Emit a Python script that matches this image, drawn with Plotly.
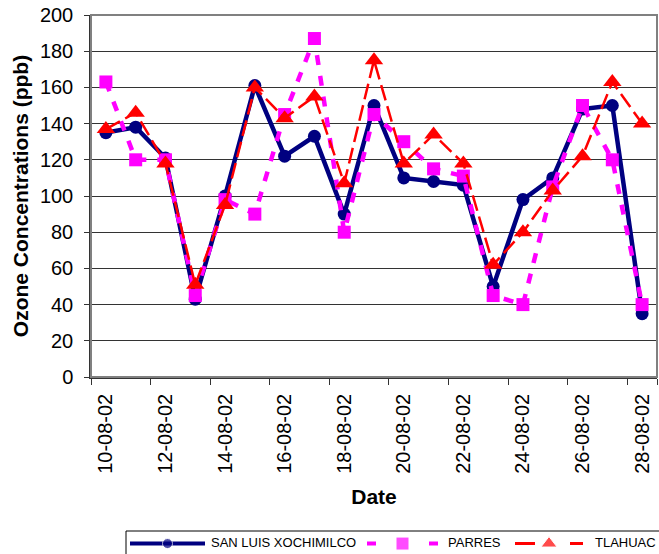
import plotly.graph_objects as go

# Sampling dates (dd-mm-yy), one per day
dates = ["10-08-02", "11-08-02", "12-08-02", "13-08-02", "14-08-02", "15-08-02",
         "16-08-02", "17-08-02", "18-08-02", "19-08-02", "20-08-02", "21-08-02",
         "22-08-02", "23-08-02", "24-08-02", "25-08-02", "26-08-02", "27-08-02",
         "28-08-02"]

# Daily ozone maxima (ppb) per monitoring station
san_luis = [135, 138, 121, 43, 100, 161, 122, 133, 90, 150,
            110, 108, 106, 50, 98, 110, 148, 150, 35]
parres = [163, 120, 120, 45, 98, 90, 145, 187, 80, 145,
          130, 115, 111, 45, 40, 105, 150, 120, 40]
tlahuac = [137, 146, 118, 51, 95, 160, 143, 155, 107, 175,
           118, 134, 118, 62, 80, 103, 122, 163, 140]

stations = ["SAN LUIS XOCHIMILCO", "PARRES", "TLAHUAC"]
tick_labels = dates[::2]
y_ticks = list(range(0, 201, 20))

FONT = "Liberation Sans, Arial, sans-serif"

styles = [
    dict(line=dict(color="#000080", width=4.5),
         marker=dict(symbol="circle", size=13, color="#000080")),
    dict(line=dict(color="#FF00FF", width=4.5, dash="10px,11px"),
         marker=dict(symbol="square", size=13, color="#FF00FF")),
    dict(line=dict(color="#FF0000", width=2.5, dash="16px,6px"),
         marker=dict(symbol="triangle-up", size=16, color="#FF0000")),
]

fig = go.Figure()
for name, values, st in zip(stations, [san_luis, parres, tlahuac], styles):
    fig.add_trace(go.Scatter(
        x=dates, y=values, name=name, mode="lines+markers",
        line=st["line"], marker=st["marker"],
        xaxis="x", yaxis="y", showlegend=False,
    ))

# Key strip under the chart: a short sample line per station with its marker
# in the middle (horizontal positions in px of the figure width), plus labels
key_spans = [(130, 205), (367, 438), (515, 583)]
key_text_x = [211, 448, 595]
key_dash = [None, "9px,53px", "20px,35px"]
key_width = [4, 4, 3]
key_msize = [10, 13, 14]
for name, st, (x0, x1), dsh, lw, ms in zip(stations, styles, key_spans,
                                           key_dash, key_width, key_msize):
    fig.add_trace(go.Scatter(
        x=[x0, (x0 + x1) / 2, x1], y=[0, 0, 0],
        mode="lines+markers",
        line=dict(color=st["line"]["color"], width=lw, dash=dsh),
        marker=dict(symbol=st["marker"]["symbol"], color=st["marker"]["color"],
                    size=[0, ms, 0]),
        xaxis="x2", yaxis="y2", showlegend=False, hoverinfo="skip",
        cliponaxis=False,
    ))
fig.add_trace(go.Scatter(
    x=key_text_x, y=[0, 0, 0], mode="text", text=stations,
    textposition="middle right",
    textfont=dict(size=13, family=FONT, color="black"),
    xaxis="x2", yaxis="y2", showlegend=False, hoverinfo="skip", cliponaxis=False,
))

H, TOP = 554, 15
area = H - TOP
plot_bottom_px = 377
key_top_px = 531

fig.update_layout(
    width=659, height=H,
    margin=dict(l=91, r=2, t=TOP, b=0, autoexpand=False),
    paper_bgcolor="white", plot_bgcolor="white",
    font=dict(family=FONT, color="black"),
    showlegend=False,
    xaxis=dict(
        type="category", range=[-0.5, len(dates) - 0.5], anchor="y",
        tickmode="array", tickvals=tick_labels, ticktext=tick_labels,
        tickson="boundaries", ticks="outside", ticklen=6, tickcolor="#333",
        tickangle=-90, tickfont=dict(size=20), ticklabelstandoff=7,
        showgrid=False, showline=True, linecolor="#333", linewidth=1.5,
        automargin=False,
        title=dict(text="<b>Date</b>", font=dict(size=21), standoff=16),
    ),
    yaxis=dict(
        domain=[(H - plot_bottom_px) / area, 1],
        range=[0, 200], tickvals=y_ticks,
        ticks="outside", ticklen=5, tickcolor="#333",
        tickfont=dict(size=20), ticklabelstandoff=7,
        showgrid=True, gridcolor="#333", gridwidth=1,
        showline=True, linecolor="#333", linewidth=1.5,
        zeroline=False, automargin=False,
        title=dict(text="<b>Ozone Concentrations (ppb)</b>", font=dict(size=21), standoff=6),
    ),
    xaxis2=dict(domain=[0, 1], range=[91, 657], anchor="y2", visible=False),
    yaxis2=dict(domain=[0, (H - key_top_px) / area], range=[-1, 1.2],
                anchor="x2", visible=False),
    shapes=[
        dict(type="rect", xref="paper", yref="paper",
             x0=0, y0=(H - plot_bottom_px) / area, x1=1, y1=1,
             line=dict(color="#808080", width=2), layer="above"),
        dict(type="rect", xref="paper", yref="paper",
             x0=(126 - 91) / 566, y0=-0.05, x1=1.05, y1=(H - key_top_px) / area,
             line=dict(color="black", width=1), layer="below"),
    ],
)

fig.write_html("out.html")
